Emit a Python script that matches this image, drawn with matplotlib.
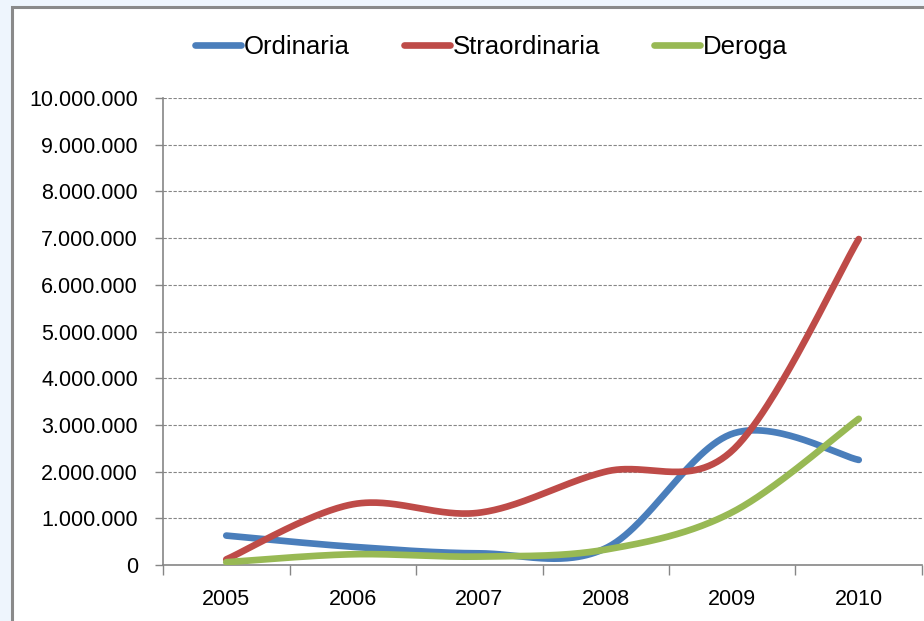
import matplotlib
matplotlib.use("Agg")
import matplotlib.pyplot as plt
import numpy as np
from matplotlib.patches import Rectangle

plt.rcParams["font.family"] = ["Liberation Sans", "DejaVu Sans"]

# Data
years = ["2005", "2006", "2007", "2008", "2009", "2010"]
ordinaria = [630000, 390000, 250000, 360000, 2810000, 2250000]
straordinaria = [120000, 1300000, 1120000, 2000000, 2450000, 6980000]
deroga = [60000, 230000, 180000, 330000, 1130000, 3130000]

colors = {"Ordinaria": "#4A7EBB", "Straordinaria": "#BE4B48", "Deroga": "#98B954"}
grid_col = "#868686"


def smooth(ys, n=60):
    # Excel-like smoothed line: cubic Bezier segments through every point
    xs = np.arange(len(ys), dtype=float)
    ys = np.asarray(ys, dtype=float)
    pts = np.column_stack([xs, ys])
    out = []
    for i in range(len(pts) - 1):
        p0 = pts[max(i - 1, 0)]
        p1 = pts[i]
        p2 = pts[i + 1]
        p3 = pts[min(i + 2, len(pts) - 1)]
        c1 = p1 + (p2 - p0) / 6.0
        c2 = p2 - (p3 - p1) / 6.0
        t = np.linspace(0, 1, n)[:, None]
        seg = ((1 - t) ** 3) * p1 + 3 * ((1 - t) ** 2) * t * c1 + 3 * (1 - t) * t ** 2 * c2 + t ** 3 * p2
        out.append(seg if i == 0 else seg[1:])
    seg = np.vstack(out)
    return seg[:, 0], seg[:, 1]


W, H = 924, 621
fig = plt.figure(figsize=(W / 100, H / 100), dpi=100)
fig.patch.set_facecolor("#EEF5FD")
fig.patches.append(Rectangle((12 / W, -0.1), 1.2, 1.1 - 7 / H, transform=fig.transFigure,
                             facecolor="white", edgecolor="#8A8A8A", linewidth=2.2, zorder=-10))

ax = fig.add_axes([163 / W, (H - 565) / H, (922 - 163) / W, (565 - 98) / H])
ax.set_facecolor("none")

for name, vals in [("Ordinaria", ordinaria), ("Straordinaria", straordinaria), ("Deroga", deroga)]:
    sx, sy = smooth(vals)
    ax.plot(sx, sy, color=colors[name], lw=4.8, solid_capstyle="round", label=name, zorder=3)

ax.set_xlim(-0.5, len(years) - 0.5)
ax.set_ylim(0, 10000000)

yt = np.arange(0, 10000001, 1000000)
ax.set_yticks(yt)
ax.set_yticklabels([f"{v:,.0f}".replace(",", ".") for v in yt], fontsize=15.5)
ax.yaxis.grid(True, color=grid_col, linestyle=(0, (3, 1.5)), linewidth=0.8)
ax.set_axisbelow(True)

ax.set_xticks(np.arange(-0.5, len(years), 1.0))
ax.set_xticklabels([])
ax.set_xticks(np.arange(len(years)), minor=True)
ax.set_xticklabels(years, minor=True, fontsize=15.5)
ax.tick_params(axis="x", which="major", length=7, color=grid_col, width=1)
ax.tick_params(axis="x", which="minor", length=0, pad=17)
ax.tick_params(axis="y", length=6, color=grid_col, width=1, pad=12)

for s in ["top", "right"]:
    ax.spines[s].set_visible(False)
for s in ["left", "bottom"]:
    ax.spines[s].set_color(grid_col)
    ax.spines[s].set_linewidth(1.2)

fig.legend(loc="center", bbox_to_anchor=(491 / W, 1 - 47 / H), ncol=3, frameon=False,
           fontsize=18.5, handlelength=1.8, handletextpad=0.1, columnspacing=2.1)

fig.savefig("out.png", dpi=100, facecolor=fig.get_facecolor())
